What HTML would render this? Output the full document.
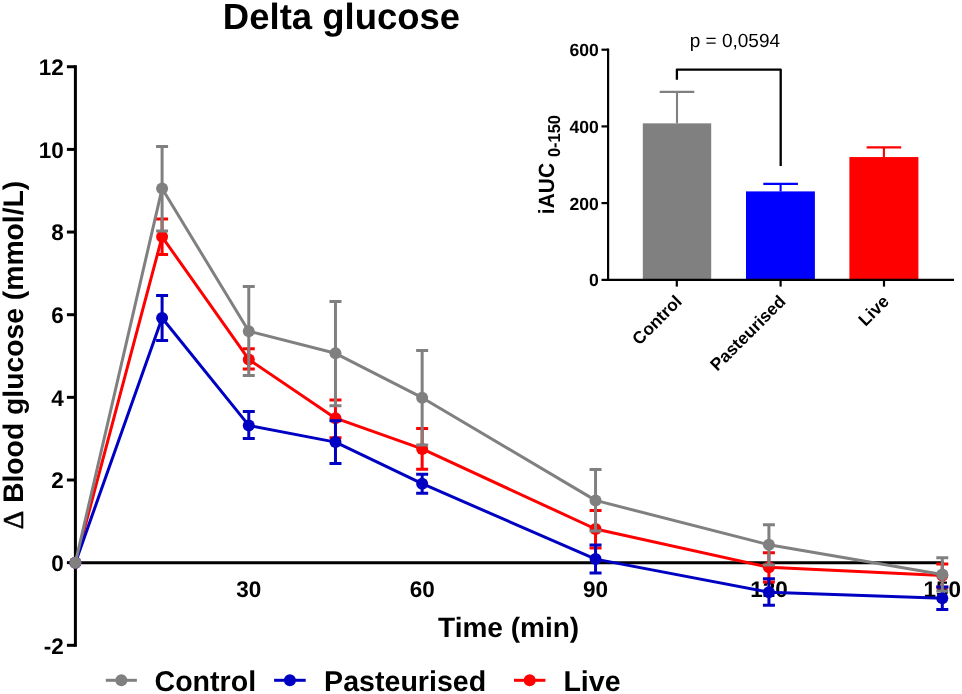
<!DOCTYPE html>
<html lang="en">
<head>
<meta charset="utf-8">
<title>Delta glucose</title>
<style>
html,body{margin:0;padding:0;background:#fff;}
body{width:962px;height:694px;overflow:hidden;}
svg{display:block;will-change:transform;}
text{text-rendering:geometricPrecision;font-family:"Liberation Sans",Arial,Helvetica,sans-serif;fill:#000;}
.b{font-weight:bold;}
</style>
</head>
<body>
<svg width="962" height="694" viewBox="0 0 962 694">
<rect width="962" height="694" fill="#fff"/>

<text class="b" x="341.5" y="28.8" font-size="36.5" text-anchor="middle">Delta glucose</text>
<text class="b" transform="translate(23.2 355) rotate(-90)" font-size="28.3" text-anchor="middle"><tspan font-family="'Liberation Serif',serif" font-weight="normal" font-size="28.7" stroke="#000" stroke-width="0.6">Δ</tspan> Blood glucose (mmol/L)</text>
<text class="b" x="508.6" y="637" font-size="28" text-anchor="middle">Time (min)</text>
<path d="M75.4 65.25V646.8M75.4 562.65H943.8" stroke="#000" stroke-width="3" fill="none"/>
<path d="M66.9 66.75H75.4" stroke="#000" stroke-width="3"/>
<text class="b" transform="translate(63.8 75.05) scale(1 1.005)" font-size="22.5" text-anchor="end">12</text>
<path d="M66.9 149.40H75.4" stroke="#000" stroke-width="3"/>
<text class="b" transform="translate(63.8 157.70) scale(1 1.005)" font-size="22.5" text-anchor="end">10</text>
<path d="M66.9 232.05H75.4" stroke="#000" stroke-width="3"/>
<text class="b" transform="translate(63.8 240.35) scale(1 1.005)" font-size="22.5" text-anchor="end">8</text>
<path d="M66.9 314.70H75.4" stroke="#000" stroke-width="3"/>
<text class="b" transform="translate(63.8 323.00) scale(1 1.005)" font-size="22.5" text-anchor="end">6</text>
<path d="M66.9 397.35H75.4" stroke="#000" stroke-width="3"/>
<text class="b" transform="translate(63.8 405.65) scale(1 1.005)" font-size="22.5" text-anchor="end">4</text>
<path d="M66.9 480.00H75.4" stroke="#000" stroke-width="3"/>
<text class="b" transform="translate(63.8 488.30) scale(1 1.005)" font-size="22.5" text-anchor="end">2</text>
<path d="M66.9 562.65H75.4" stroke="#000" stroke-width="3"/>
<text class="b" transform="translate(63.8 570.95) scale(1 1.005)" font-size="22.5" text-anchor="end">0</text>
<path d="M66.9 645.30H75.4" stroke="#000" stroke-width="3"/>
<text class="b" transform="translate(63.8 653.60) scale(1 1.005)" font-size="22.5" text-anchor="end">-2</text>
<text class="b" transform="translate(248.78 596.6) scale(1 1.005)" font-size="22.5" text-anchor="middle">30</text>
<text class="b" transform="translate(422.16 596.6) scale(1 1.005)" font-size="22.5" text-anchor="middle">60</text>
<text class="b" transform="translate(595.54 596.6) scale(1 1.005)" font-size="22.5" text-anchor="middle">90</text>
<text class="b" transform="translate(768.92 596.6) scale(1 1.005)" font-size="22.5" text-anchor="middle">120</text>
<text class="b" transform="translate(942.30 596.6) scale(1 1.005)" font-size="22.5" text-anchor="middle">150</text>
<path d="M162.09 218.90V254.40M156.09 218.90H168.09M156.09 254.40H168.09" stroke="#ff0000" stroke-width="3" fill="none"/>
<path d="M248.78 348.80V369.10M242.78 348.80H254.78M242.78 369.10H254.78" stroke="#ff0000" stroke-width="3" fill="none"/>
<path d="M335.47 400.10V437.70M329.47 400.10H341.47M329.47 437.70H341.47" stroke="#ff0000" stroke-width="3" fill="none"/>
<path d="M422.16 428.40V469.30M416.16 428.40H428.16M416.16 469.30H428.16" stroke="#ff0000" stroke-width="3" fill="none"/>
<path d="M595.54 510.50V548.00M589.54 510.50H601.54M589.54 548.00H601.54" stroke="#ff0000" stroke-width="3" fill="none"/>
<path d="M768.92 552.70V582.00M762.92 552.70H774.92M762.92 582.00H774.92" stroke="#ff0000" stroke-width="3" fill="none"/>
<path d="M942.30 563.90V587.20M936.30 563.90H948.30M936.30 587.20H948.30" stroke="#ff0000" stroke-width="3" fill="none"/>
<polyline points="75.40,562.65 162.09,236.80 248.78,359.45 335.47,418.20 422.16,448.90 595.54,529.00 768.92,567.30 942.30,575.60" fill="none" stroke="#ff0000" stroke-width="3" stroke-linejoin="round"/>
<circle cx="75.40" cy="562.65" r="6" fill="#ff0000"/>
<circle cx="162.09" cy="236.80" r="6" fill="#ff0000"/>
<circle cx="248.78" cy="359.45" r="6" fill="#ff0000"/>
<circle cx="335.47" cy="418.20" r="6" fill="#ff0000"/>
<circle cx="422.16" cy="448.90" r="6" fill="#ff0000"/>
<circle cx="595.54" cy="529.00" r="6" fill="#ff0000"/>
<circle cx="768.92" cy="567.30" r="6" fill="#ff0000"/>
<circle cx="942.30" cy="575.60" r="6" fill="#ff0000"/>
<path d="M162.09 295.60V340.40M156.09 295.60H168.09M156.09 340.40H168.09" stroke="#0000c2" stroke-width="3" fill="none"/>
<path d="M248.78 411.60V438.40M242.78 411.60H254.78M242.78 438.40H254.78" stroke="#0000c2" stroke-width="3" fill="none"/>
<path d="M335.47 420.75V463.40M329.47 420.75H341.47M329.47 463.40H341.47" stroke="#0000c2" stroke-width="3" fill="none"/>
<path d="M422.16 474.30V493.20M416.16 474.30H428.16M416.16 493.20H428.16" stroke="#0000c2" stroke-width="3" fill="none"/>
<path d="M595.54 545.10V572.90M589.54 545.10H601.54M589.54 572.90H601.54" stroke="#0000c2" stroke-width="3" fill="none"/>
<path d="M768.92 578.80V605.20M762.92 578.80H774.92M762.92 605.20H774.92" stroke="#0000c2" stroke-width="3" fill="none"/>
<path d="M942.30 587.00V609.50M936.30 587.00H948.30M936.30 609.50H948.30" stroke="#0000c2" stroke-width="3" fill="none"/>
<polyline points="75.40,562.65 162.09,318.00 248.78,425.40 335.47,442.10 422.16,483.70 595.54,559.10 768.92,592.20 942.30,598.30" fill="none" stroke="#0000c2" stroke-width="3" stroke-linejoin="round"/>
<circle cx="75.40" cy="562.65" r="6" fill="#0000c2"/>
<circle cx="162.09" cy="318.00" r="6" fill="#0000c2"/>
<circle cx="248.78" cy="425.40" r="6" fill="#0000c2"/>
<circle cx="335.47" cy="442.10" r="6" fill="#0000c2"/>
<circle cx="422.16" cy="483.70" r="6" fill="#0000c2"/>
<circle cx="595.54" cy="559.10" r="6" fill="#0000c2"/>
<circle cx="768.92" cy="592.20" r="6" fill="#0000c2"/>
<circle cx="942.30" cy="598.30" r="6" fill="#0000c2"/>
<path d="M162.09 146.50V230.90M156.09 146.50H168.09M156.09 230.90H168.09" stroke="#808080" stroke-width="3" fill="none"/>
<path d="M248.78 286.40V375.60M242.78 286.40H254.78M242.78 375.60H254.78" stroke="#808080" stroke-width="3" fill="none"/>
<path d="M335.47 301.40V405.80M329.47 301.40H341.47M329.47 405.80H341.47" stroke="#808080" stroke-width="3" fill="none"/>
<path d="M422.16 350.40V445.10M416.16 350.40H428.16M416.16 445.10H428.16" stroke="#808080" stroke-width="3" fill="none"/>
<path d="M595.54 469.40V531.00M589.54 469.40H601.54M589.54 531.00H601.54" stroke="#808080" stroke-width="3" fill="none"/>
<path d="M768.92 524.70V565.10M762.92 524.70H774.92M762.92 565.10H774.92" stroke="#808080" stroke-width="3" fill="none"/>
<path d="M942.30 557.80V591.10M936.30 557.80H948.30M936.30 591.10H948.30" stroke="#808080" stroke-width="3" fill="none"/>
<polyline points="75.40,562.65 162.09,188.56 248.78,331.20 335.47,353.30 422.16,397.70 595.54,500.40 768.92,544.80 942.30,574.50" fill="none" stroke="#808080" stroke-width="3" stroke-linejoin="round"/>
<circle cx="75.40" cy="562.65" r="6" fill="#808080"/>
<circle cx="162.09" cy="188.56" r="6" fill="#808080"/>
<circle cx="248.78" cy="331.20" r="6" fill="#808080"/>
<circle cx="335.47" cy="353.30" r="6" fill="#808080"/>
<circle cx="422.16" cy="397.70" r="6" fill="#808080"/>
<circle cx="595.54" cy="500.40" r="6" fill="#808080"/>
<circle cx="768.92" cy="544.80" r="6" fill="#808080"/>
<circle cx="942.30" cy="574.50" r="6" fill="#808080"/>
<path d="M105.8 680.3H136.9" stroke="#808080" stroke-width="3"/><circle cx="121.35" cy="680.3" r="6" fill="#808080"/>
<text class="b" x="154.5" y="690.8" font-size="28.6">Control</text>
<path d="M274.1 680.3H305.7" stroke="#0000c2" stroke-width="3"/><circle cx="289.9" cy="680.3" r="6" fill="#0000c2"/>
<text class="b" x="324.1" y="690.8" font-size="28.6">Pasteurised</text>
<path d="M514.0 680.3H545.4" stroke="#ff0000" stroke-width="3"/><circle cx="529.7" cy="680.3" r="6" fill="#ff0000"/>
<text class="b" x="563.4" y="690.8" font-size="28.6">Live</text>
<rect x="642.8" y="123.35" width="68.40" height="156.45" fill="#808080"/>
<path d="M677.0 123.35V91.9M659.70 91.9H694.30" stroke="#808080" stroke-width="2.1" fill="none"/>
<rect x="746.0" y="191.4" width="68.90" height="88.40" fill="#0000ff"/>
<path d="M780.6 191.4V183.9M763.30 183.9H797.90" stroke="#0000ff" stroke-width="2.1" fill="none"/>
<rect x="849.4" y="157.05" width="69.00" height="122.75" fill="#ff0000"/>
<path d="M883.9 157.05V147.4M866.60 147.4H901.20" stroke="#ff0000" stroke-width="2.1" fill="none"/>
<path d="M608.1 48.6V280.9M601.5 279.8H954" stroke="#000" stroke-width="2.2" fill="none"/>
<path d="M601.5 49.70H608.1" stroke="#000" stroke-width="2.2"/>
<text class="b" transform="translate(598.8 56.20) scale(1 1.005)" font-size="17.6" text-anchor="end">600</text>
<path d="M601.5 126.40H608.1" stroke="#000" stroke-width="2.2"/>
<text class="b" transform="translate(598.8 132.90) scale(1 1.005)" font-size="17.6" text-anchor="end">400</text>
<path d="M601.5 203.10H608.1" stroke="#000" stroke-width="2.2"/>
<text class="b" transform="translate(598.8 209.60) scale(1 1.005)" font-size="17.6" text-anchor="end">200</text>
<text class="b" transform="translate(598.8 286.30) scale(1 1.005)" font-size="17.6" text-anchor="end">0</text>
<path d="M676.8 279.8V286.6" stroke="#000" stroke-width="2.2"/>
<text class="b" transform="translate(682.80 302.5) rotate(-45)" font-size="17.3" text-anchor="end">Control</text>
<path d="M780.6 279.8V286.6" stroke="#000" stroke-width="2.2"/>
<text class="b" transform="translate(786.60 302.5) rotate(-45)" font-size="17.3" text-anchor="end">Pasteurised</text>
<path d="M884.0 279.8V286.6" stroke="#000" stroke-width="2.2"/>
<text class="b" transform="translate(890.00 302.5) rotate(-45)" font-size="17.3" text-anchor="end">Live</text>
<path d="M676.9 79.7V69.6H780.7V166.1" stroke="#000" stroke-width="2.3" fill="none" stroke-linejoin="round"/>
<text x="734.9" y="47" font-size="19" text-anchor="middle">p = 0,0594</text>
<text class="b" transform="translate(554 213.2) rotate(-90) scale(1 1.05)" font-size="21"><tspan x="-1">iAUC </tspan><tspan font-size="16.4" dy="5.33">0-150</tspan></text>
</svg>
</body>
</html>
